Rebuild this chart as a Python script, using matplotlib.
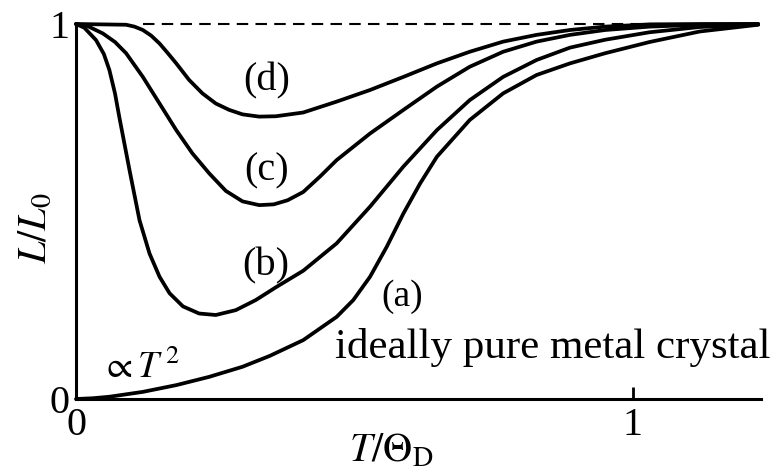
import matplotlib
matplotlib.use("Agg")
import matplotlib.pyplot as plt

plt.rcParams['font.family'] = ['Liberation Serif', 'DejaVu Serif']
plt.rcParams['mathtext.fontset'] = 'stix'

# Curve (a): ideally pure metal crystal
a_x = [0, 0.03, 0.06, 0.12, 0.18, 0.239, 0.299, 0.348, 0.408, 0.468, 0.498, 0.528, 0.558, 0.588, 0.618, 0.648, 0.707, 0.767, 0.827, 0.887, 0.95, 1.03, 1.12, 1.225]
a_y = [0, 0.002, 0.006, 0.019, 0.037, 0.059, 0.086, 0.115, 0.157, 0.219, 0.264, 0.326, 0.406, 0.495, 0.575, 0.646, 0.744, 0.815, 0.864, 0.895, 0.922, 0.952, 0.98, 0.998]
# Curve (b)
b_x = [0, 0.015, 0.036, 0.05, 0.06, 0.07, 0.078, 0.096, 0.114, 0.132, 0.15, 0.168, 0.192, 0.221, 0.251, 0.287, 0.323, 0.359, 0.408, 0.468, 0.528, 0.588, 0.648, 0.707, 0.767, 0.827, 0.887, 0.95, 1.03, 1.12, 1.225]
b_y = [1.0, 0.99, 0.957, 0.92, 0.877, 0.815, 0.75, 0.611, 0.477, 0.388, 0.326, 0.282, 0.247, 0.228, 0.224, 0.237, 0.264, 0.298, 0.342, 0.415, 0.513, 0.62, 0.717, 0.797, 0.859, 0.904, 0.937, 0.958, 0.978, 0.992, 0.999]
# Curve (c)
c_x = [0, 0.02, 0.048, 0.07, 0.09, 0.12, 0.15, 0.18, 0.209, 0.239, 0.269, 0.299, 0.329, 0.355, 0.38, 0.408, 0.438, 0.468, 0.528, 0.588, 0.648, 0.707, 0.767, 0.827, 0.887, 0.95, 1.03, 1.12, 1.225]
c_y = [1.0, 0.995, 0.975, 0.952, 0.922, 0.859, 0.788, 0.717, 0.655, 0.602, 0.555, 0.527, 0.517, 0.519, 0.53, 0.552, 0.593, 0.637, 0.708, 0.771, 0.833, 0.886, 0.926, 0.953, 0.971, 0.984, 0.993, 0.998, 1.0]
# Curve (d)
d_x = [0, 0.09, 0.105, 0.12, 0.135, 0.15, 0.165, 0.18, 0.203, 0.227, 0.251, 0.275, 0.299, 0.329, 0.359, 0.408, 0.468, 0.528, 0.588, 0.648, 0.707, 0.767, 0.827, 0.887, 0.95, 1.03, 1.12, 1.225]
d_y = [1.0, 0.998, 0.993, 0.984, 0.969, 0.948, 0.922, 0.895, 0.851, 0.815, 0.788, 0.771, 0.759, 0.753, 0.754, 0.764, 0.793, 0.824, 0.859, 0.895, 0.926, 0.953, 0.971, 0.984, 0.993, 0.999, 1.0, 1.0]

curves = [(a_x, a_y), (b_x, b_y), (c_x, c_y), (d_x, d_y)]
curve_labels = ['(a)', '(b)', '(c)', '(d)']
label_pos = [(0.586, 0.272), (0.341, 0.355), (0.343, 0.607), (0.343, 0.848)]
label_sizes = [27, 29, 29, 29]

x_ticks = [0, 1]
x_tick_labels = ['0', '1']
y_ticks = [0, 1]
y_tick_labels = ['0', '1']

W, H = 777, 473
fig = plt.figure(figsize=(W / 100, H / 100), dpi=100)
x0, x1 = 76, 761
y0, y1 = 399, 24
ax = fig.add_axes([x0 / W, (H - y0) / H, (x1 - x0) / W, (y0 - y1) / H])
ax.set_xlim(0, 1.23)
ax.set_ylim(0, 1)

for (xs, ys) in curves:
    ax.plot(xs, ys, color='black', lw=2.7, solid_capstyle='round',
            solid_joinstyle='round', clip_on=False)

ax.plot([0.12, 1.06], [1, 1], color='black', lw=1.5,
        linestyle=(0, (5.5, 3.5)), clip_on=False)

for lab, (lx, ly), fs in zip(curve_labels, label_pos, label_sizes):
    ax.text(lx, ly, lab, fontsize=fs, ha='center', va='center')

ax.text(0.465, 0.109, 'ideally pure metal crystal', fontsize=31,
        ha='left', va='baseline')
ax.text(0.045, 0.083, r'$\propto T^{\,2}$', fontsize=27, ha='left', va='center')

for s in ['top', 'right']:
    ax.spines[s].set_visible(False)
ax.spines['left'].set_linewidth(2.2)
ax.spines['bottom'].set_linewidth(2.2)

ax.set_xticks(x_ticks)
ax.set_xticklabels(x_tick_labels, fontsize=29)
ax.set_yticks(y_ticks)
ax.set_yticklabels(y_tick_labels, fontsize=29)
ax.tick_params(axis='x', direction='in', length=9, width=2, pad=6)
ax.tick_params(axis='y', length=0, pad=5)

ax.text(0.566, -0.141, r'$T/\Theta_{\mathrm{D}}$', fontsize=29,
        ha='center', va='center', clip_on=False)
ax.text(-0.072, 0.456, r'$L/L_0$', fontsize=29, ha='center', va='center',
        rotation=90)

fig.savefig('out.png', dpi=100)
